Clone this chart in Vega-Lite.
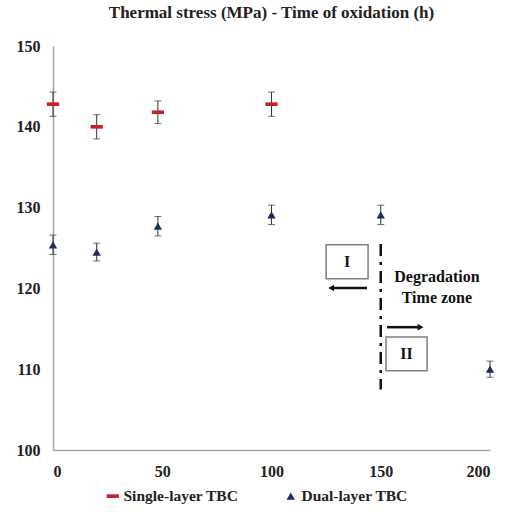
{
  "$schema": "https://vega.github.io/schema/vega-lite/v6.json",
  "autosize": {"type": "none"},
  "width": 437,
  "height": 404,
  "padding": {"left": 53, "top": 46, "right": 15, "bottom": 65},
  "background": "white",
  "config": {
    "view": {"stroke": null},
    "font": "Liberation Serif, serif",
    "axis": {"labelFont": "Liberation Serif, serif", "labelFontWeight": "bold", "labelFontSize": 16, "labelColor": "#222", "grid": false, "ticks": false, "domainColor": "#a6a6a6", "domainWidth": 1.5, "title": null},
    "legend": {"labelFont": "Liberation Serif, serif", "labelFontWeight": "bold", "labelFontSize": 15.5, "labelColor": "#222"}
  },
  "title": {"text": "Thermal  stress (MPa) - Time of oxidation  (h)", "font": "Liberation Serif, serif", "fontSize": 17, "fontWeight": "bold", "color": "#222", "offset": 16, "anchor": "middle"},
  "datasets": {
    "pts": [
      {"series": "Single-layer TBC", "t": 0, "stress": 142.8, "lo": 141.3, "hi": 144.3},
      {"series": "Single-layer TBC", "t": 20, "stress": 140.0, "lo": 138.5, "hi": 141.5},
      {"series": "Single-layer TBC", "t": 48, "stress": 141.8, "lo": 140.4, "hi": 143.2},
      {"series": "Single-layer TBC", "t": 100, "stress": 142.8, "lo": 141.3, "hi": 144.3},
      {"series": "Dual-layer TBC", "t": 0, "stress": 125.4, "lo": 124.2, "hi": 126.6},
      {"series": "Dual-layer TBC", "t": 20, "stress": 124.5, "lo": 123.4, "hi": 125.6},
      {"series": "Dual-layer TBC", "t": 48, "stress": 127.7, "lo": 126.5, "hi": 128.9},
      {"series": "Dual-layer TBC", "t": 100, "stress": 129.1, "lo": 127.9, "hi": 130.3},
      {"series": "Dual-layer TBC", "t": 150, "stress": 129.1, "lo": 127.9, "hi": 130.3},
      {"series": "Dual-layer TBC", "t": 200, "stress": 110.0, "lo": 109.0, "hi": 111.0}
    ]
  },
  "layer": [
    {
      "data": {"name": "pts"},
      "mark": {"type": "rule", "color": "#333", "strokeWidth": 1},
      "encoding": {
        "x": {"field": "t", "type": "quantitative", "scale": {"domain": [0, 200]}, "axis": {"values": [0, 50, 100, 150, 200], "labelPadding": 13, "domain": true}},
        "y": {"field": "lo", "type": "quantitative", "scale": {"domain": [100, 150]}, "axis": {"values": [100, 110, 120, 130, 140, 150], "labelPadding": 13}},
        "y2": {"field": "hi"}
      }
    },
    {
      "data": {"name": "pts"},
      "mark": {"type": "tick", "orient": "horizontal", "color": "#333", "size": 7, "thickness": 1},
      "encoding": {"x": {"field": "t", "type": "quantitative"}, "y": {"field": "lo", "type": "quantitative"}}
    },
    {
      "data": {"name": "pts"},
      "mark": {"type": "tick", "orient": "horizontal", "color": "#333", "size": 7, "thickness": 1},
      "encoding": {"x": {"field": "t", "type": "quantitative"}, "y": {"field": "hi", "type": "quantitative"}}
    },
    {
      "data": {"name": "pts"},
      "mark": {"type": "point", "filled": true, "opacity": 1},
      "encoding": {
        "x": {"field": "t", "type": "quantitative"},
        "y": {"field": "stress", "type": "quantitative"},
        "color": {"field": "series", "type": "nominal", "scale": {"domain": ["Single-layer TBC", "Dual-layer TBC"], "range": ["#c0232b", "#1f2d5e"]}, "legend": {"title": null, "orient": "none", "direction": "horizontal", "legendX": 52, "legendY": 442, "columnPadding": 44, "symbolOffset": 0, "labelOffset": 3}},
        "shape": {"field": "series", "type": "nominal", "scale": {"domain": ["Single-layer TBC", "Dual-layer TBC"], "range": ["M-1,-0.3H1V0.3H-1Z", "triangle-up"]}},
        "size": {"field": "series", "type": "nominal", "scale": {"domain": ["Single-layer TBC", "Dual-layer TBC"], "range": [150, 70]}}
      }
    },
    {
      "data": {"values": [{"x": 150, "y": 125.5, "y2": 107.5}]},
      "mark": {"type": "rule", "color": "#111", "strokeWidth": 2.5, "strokeDash": [12, 6, 3, 6]},
      "encoding": {"x": {"field": "x", "type": "quantitative"}, "y": {"field": "y", "type": "quantitative"}, "y2": {"field": "y2"}}
    },
    {
      "data": {"values": [{"x": 127.5, "x2": 143.7, "y": 120.05}, {"x": 152.9, "x2": 167.5, "y": 115.2}]},
      "mark": {"type": "rule", "color": "#111", "strokeWidth": 2.5},
      "encoding": {"x": {"field": "x", "type": "quantitative"}, "x2": {"field": "x2"}, "y": {"field": "y", "type": "quantitative"}}
    },
    {
      "data": {"values": [{"x": 127.3, "y": 120.05}]},
      "mark": {"type": "point", "filled": true, "color": "#111", "opacity": 1, "size": 45, "shape": "triangle-left"},
      "encoding": {"x": {"field": "x", "type": "quantitative"}, "y": {"field": "y", "type": "quantitative"}}
    },
    {
      "data": {"values": [{"x": 168.2, "y": 115.2}]},
      "mark": {"type": "point", "filled": true, "color": "#111", "opacity": 1, "size": 45, "shape": "triangle-right"},
      "encoding": {"x": {"field": "x", "type": "quantitative"}, "y": {"field": "y", "type": "quantitative"}}
    },
    {
      "data": {"values": [{"x": 125, "x2": 144.2, "y": 125.4, "y2": 121.2}, {"x": 152.4, "x2": 171.2, "y": 114.0, "y2": 109.8}]},
      "mark": {"type": "rect", "fill": "white", "stroke": "#7f7f7f", "strokeWidth": 1.5},
      "encoding": {"x": {"field": "x", "type": "quantitative"}, "x2": {"field": "x2"}, "y": {"field": "y", "type": "quantitative"}, "y2": {"field": "y2"}}
    },
    {
      "data": {"values": [{"label": "I", "cx": 134.6, "cy": 123.3}, {"label": "II", "cx": 161.8, "cy": 111.9}]},
      "mark": {"type": "text", "font": "Liberation Serif, serif", "fontWeight": "bold", "fontSize": 16, "color": "#111", "baseline": "middle", "align": "center"},
      "encoding": {"x": {"field": "cx", "type": "quantitative"}, "y": {"field": "cy", "type": "quantitative"}, "text": {"field": "label"}}
    },
    {
      "data": {"values": [{"label": "Degradation", "x": 175.7, "y": 121.4}, {"label": "Time zone", "x": 175.7, "y": 118.8}]},
      "mark": {"type": "text", "font": "Liberation Serif, serif", "fontWeight": "bold", "fontSize": 16, "color": "#111", "baseline": "middle", "align": "center"},
      "encoding": {"x": {"field": "x", "type": "quantitative"}, "y": {"field": "y", "type": "quantitative"}, "text": {"field": "label"}}
    }
  ]
}
